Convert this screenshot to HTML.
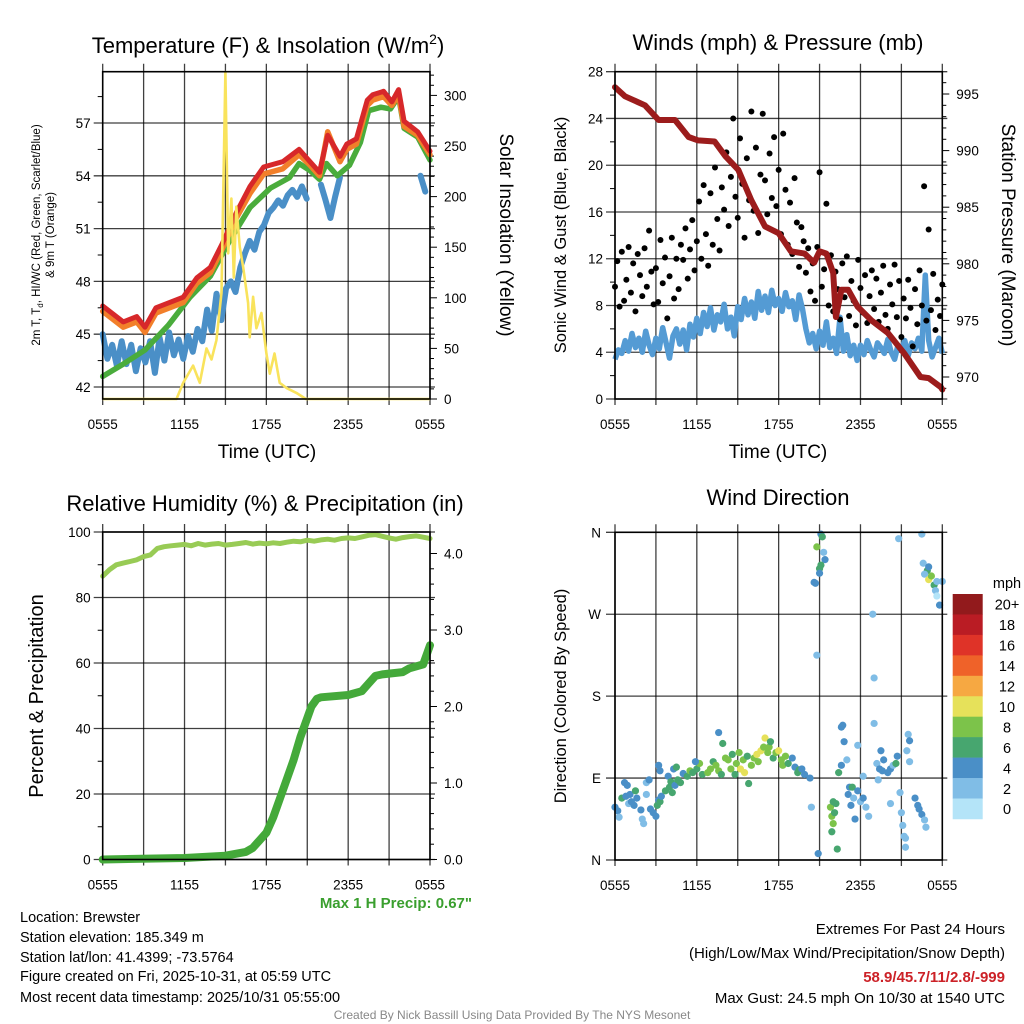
<!DOCTYPE html>
<html><head><meta charset="utf-8"><title>Mesonet Brewster</title>
<style>
html,body{margin:0;padding:0;background:#fff;}
svg{display:block;font-family:"Liberation Sans",sans-serif;}
</style></head>
<body>
<svg id="fig" width="1024" height="1024" viewBox="0 0 1024 1024" xmlns="http://www.w3.org/2000/svg">
<rect x="0" y="0" width="1024" height="1024" fill="#fff"/>
<text x="268" y="53" font-size="22" text-anchor="middle">Temperature (F) &amp; Insolation (W/m<tspan font-size="14" dy="-9">2</tspan><tspan dy="9">)</tspan></text>
<text x="778" y="50" font-size="22" text-anchor="middle">Winds (mph) &amp; Pressure (mb)</text>
<text x="265" y="511" font-size="22" text-anchor="middle">Relative Humidity (%) &amp; Precipitation (in)</text>
<text x="778" y="505" font-size="22" text-anchor="middle">Wind Direction</text>

<text transform="translate(40,235) rotate(-90)" font-size="11.5" text-anchor="middle">2m T, T<tspan font-size="8" dy="3">d</tspan><tspan dy="-3">, HI/WC (Red, Green, Scarlet/Blue)</tspan></text>
<text transform="translate(54,235) rotate(-90)" font-size="11.5" text-anchor="middle">&amp; 9m T (Orange)</text>
<text transform="translate(500,235) rotate(90)" font-size="19" text-anchor="middle">Solar Insolation (Yellow)</text>
<text transform="translate(566,235) rotate(-90)" font-size="16.5" text-anchor="middle">Sonic Wind &amp; Gust (Blue, Black)</text>
<text transform="translate(1002,235) rotate(90)" font-size="19" text-anchor="middle">Station Pressure (Maroon)</text>
<text transform="translate(43,696) rotate(-90)" font-size="20" text-anchor="middle">Percent &amp; Precipitation</text>
<text transform="translate(566,696) rotate(-90)" font-size="16.5" text-anchor="middle">Direction (Colored By Speed)</text>
<text x="267" y="458" font-size="19" text-anchor="middle">Time (UTC)</text>
<text x="778" y="458" font-size="19" text-anchor="middle">Time (UTC)</text>

<text x="472" y="908" font-size="15" font-weight="bold" fill="#3a9f2e" text-anchor="end">Max 1 H Precip: 0.67"</text>
<g font-size="14.5">
<text x="20" y="922">Location: Brewster</text>
<text x="20" y="942">Station elevation: 185.349 m</text>
<text x="20" y="962">Station lat/lon: 41.4399; -73.5764</text>
<text x="20" y="981">Figure created on Fri, 2025-10-31, at 05:59 UTC</text>
<text x="20" y="1002">Most recent data timestamp: 2025/10/31 05:55:00</text>
</g>
<g font-size="15" text-anchor="end">
<text x="1005" y="934">Extremes For Past 24 Hours</text>
<text x="1005" y="958">(High/Low/Max Wind/Precipitation/Snow Depth)</text>
<text x="1005" y="982" font-weight="bold" fill="#cc2127">58.9/45.7/11/2.8/-999</text>
<text x="1005" y="1003">Max Gust: 24.5 mph On 10/30 at 1540 UTC</text>
</g>
<text x="512" y="1019" font-size="12" fill="#888" text-anchor="middle">Created By Nick Bassill Using Data Provided By The NYS Mesonet</text>
</svg>
<script>
// ---------- DATA ----------
var timeTickLabels = ["0555","1155","1755","2355","0555"];
var timeTickHours = [0,6,12,18,24];
// Panel 1
var tempTicks = [42,45,48,51,54,57];
var solarTicks = [0,50,100,150,200,250,300];
var redHours = [0,1.5,2.5,3.1,3.9,5.9,6.9,7.9,8.8,9.8,10.8,11.8,13.2,14.4,15.2,15.9,16.5,17.4,17.9,18.6,19.4,19.8,20.6,21.2,21.7,22.1,23.1,24];
var redTemp = [46.6,45.7,46.0,45.4,46.5,47.1,48.2,48.8,50.2,51.9,53.4,54.5,54.8,55.5,54.8,54.2,56.3,55.1,55.8,56.1,58.3,58.6,58.8,58.2,58.9,57.1,56.5,55.4];
var orangeTemp = [46.3,45.4,45.7,45.1,46.2,46.8,47.9,48.5,49.9,51.6,53.0,54.1,54.4,55.2,54.6,54.0,56.5,54.8,55.5,55.8,58.0,58.3,58.5,58.0,58.6,56.8,56.3,55.2];
var greenHours = [0,1.5,3.1,4.8,6.4,7.9,9.3,10.8,12.3,13.7,14.4,15.2,15.9,16.4,17.2,18.1,18.9,19.5,20.4,21.1,21.7,22.1,23.1,24];
var greenTemp = [42.6,43.3,44.1,45.5,47.1,48.3,50.3,52.2,53.3,53.9,54.7,54.3,53.8,54.7,54.0,54.6,55.9,57.7,57.9,57.8,58.5,56.7,56.2,54.9];
var blueTemp = [45.0,43.6,44.4, 43.2,44.6,43.3, 44.4,42.9,44.2, 43.4,44.6,42.8, 44.8,43.5,45.1, 43.8,44.7,43.6, 44.9,44.0,45.3, 44.6,46.4,45.2, 47.3,45.8,47.6, 48.0,47.4,48.8, 49.6,50.3,49.8, 50.8,51.2,51.9, 52.2,52.6,52.3, 52.9,53.2,52.8, 53.4,52.7,null, null,53.5,52.6, 51.6,52.8,53.9, null,null,null, null,null,null, null,null,null, null,null,null, null,null,null, null,54.0,53.1, null];
var solarHours = [0,5.41,5.9,6.63,7.12,7.61,7.98,8.34,8.71,9.0,9.2,9.44,9.61,9.8,10.05,10.3,10.66,10.78,11.03,11.27,11.64,12.0,12.25,12.6,12.98,13.47,14.2,14.9,24];
var solarVals = [0,0,16,33,16,50,39,58,105,323,144,198,120,190,150,130,95,61,101,70,85,45,25,45,16,11,6,0,0];
// Panel 2
var windTicks = [0,4,8,12,16,20,24,28];
var pressTicks = [970,975,980,985,990,995];
var windSpeed = [3.4,4.2,3.9,5.0,4.1,5.6,4.4,5.2,4.0,5.8,4.6,3.8, 5.2,4.3,6.1,4.8,3.5,5.4,6.0,4.7,5.9,4.2,6.4,5.3, 6.9,5.6,7.4,6.2,7.8,5.9,7.2,6.6,8.1,6.0,7.0,5.4, 7.9,6.8,8.6,7.2,8.3,6.9,9.2,7.6,8.8,7.4,9.3,8.0, 8.6,7.5,9.1,7.9,8.4,6.8,8.9,7.7,6.0,4.8,5.6,4.3, 5.8,4.6,6.6,4.4,5.2,3.9,7.0,4.1,5.5,3.7,4.6,3.3, 4.6,3.8,5.0,4.2,3.6,4.8,4.4,3.9,5.1,4.0,3.4,4.6, 4.2,5.0,3.7,4.8,4.3,5.2,4.1,10.6,5.0,3.6,4.4,5.2, 3.9];
var gustSpeed = [9.6,11.8,7.9,12.6,8.4,10.2, 13.0,9.1,11.6,7.5,12.4,10.6, 8.8,12.9,9.6,14.4,10.9,8.1, 11.2,8.3,13.6,9.9,12.1,6.9, 10.5,13.8,8.6,12.0,9.4,13.2, 11.9,14.6,10.3,12.8,15.3,11.0, 13.5,16.9,12.0,18.3,14.1,11.4, 17.6,13.2,19.8,15.4,12.7,18.1, 16.2,21.1,14.8,19.0,24.0,17.3, 15.5,22.3,18.4,13.8,20.6,17.0, 24.6,16.1,21.5,14.2,19.2,24.4, 18.7,15.8,21.0,17.2,22.4,16.5, 19.6,14.1,22.7,17.9,13.2,16.8, 12.4,18.9,15.1,11.3,14.7,13.5, 10.8,12.9,9.2,11.6,8.4,13.0, 19.4,9.6,11.1,16.7,8.0,12.3, 7.5,10.9,9.4,6.8,11.6,8.7, 12.2,7.1,10.1,8.4,6.3,11.9, 9.5,7.4,10.6,6.5,8.8,11.0, 7.7,10.3,6.6,9.1,11.4,7.2, 6.0,9.8,8.1,11.5,7.0,10.1, 5.3,8.6,6.9,10.2,7.8,4.5, 9.4,6.4,11.0,8.0,18.2,6.7, 14.5,7.6,10.7,5.9,8.5,7.1, 9.8];
var pressHours = [0,0.73,2.2,3.2,4.4,5.4,6.1,7.3,8.1,9.04,10,11,12,12.9,13.9,14.6,15,15.5,16,16.2,16.6,17.1,17.8,18.8,20,21.2,22.4,23,23.9,24];
var pressVals = [995.6,994.8,994.0,992.7,992.7,991.2,990.9,990.8,989.5,988.3,985.6,983.3,982.7,981.1,980.9,980.1,981.1,980.9,979.2,975.3,977.7,977.7,976.2,975.0,973.9,972.1,970.0,969.9,969.1,968.9];
// Panel 3
var rhTicks = [0,20,40,60,80,100];
var precipTicks = [0,1,2,3,4];
var rhVals = [86.5,88.5,90,90.5,91,91.5,92.5,93,95,95.5, 95.8,96,96.2,95.8,96.5,96,96.3,96.5,96,96.2, 96.5,96.8,96.3,96.6,96.4,96.7,96.5,96.9,97.2,97, 97.5,97.2,97.6,97.8,97.5,98,98.2,98,98.5,99, 99.2,98.7,98.2,97.8,98.3,98.6,98.8,98.4,98];
var precipHours = [0,6,9,10.5,11,11.5,12,12.5,13,13.5,14,14.5,15,15.3,15.7,16,18,19,19.5,20,20.5,22,22.5,23.5,24];
var precipVals = [0,0.02,0.05,0.1,0.15,0.25,0.35,0.55,0.8,1.05,1.3,1.6,1.85,2.0,2.1,2.12,2.15,2.2,2.3,2.4,2.42,2.45,2.5,2.55,2.8];
// Panel 4
var dirTickLabels = ["N","E","S","W","N"];
var dirTickDeg = [0,90,180,270,360];
var speedBins = ["0","2","4","6","8","10","12","14","16","18","20+"];
var binColors = ["#b4e4f8","#80bde6","#4a8fc7","#47a66f","#7cc34a","#e6e15a","#f6a842","#ef6229","#df3328","#ba1c24","#921a1c"];
var dirHours = [0,0.2,0.3,0.5,0.7,0.9,0.8,1.0,1.2,1.1,1.4,1.5,1.6,1.9,2.0,2.1,2.3,2.3,2.5,2.6,2.8,3.0,3.1,3.2,3.3,3.4,3.2,3.3, 3.7,3.9,4.0,4.1,4.2,4.4,4.3,4.6,4.8,4.5,5.0,5.3,5.5,5.7,6.0,6.2,6.4,5.9, 6.8,7.0,7.2,7.4,7.6,7.8,7.6,7.9,8.1,8.3,8.5,8.6,8.8,8.9, 9.1,9.2,9.4,9.5,9.7,9.8,10.0,10.2,10.4,10.5,10.7,10.9,11.0,11.2,11.3,11.4,11.6,11.8,12.0,12.2,12.3,12.5,12.7, 13.0,13.2,13.4,13.5,13.7,13.9,14.3, 14.4,14.6,14.7,14.8,14.9,14.8,15.0,15.1,15.2,15.3,15.4,15.1,15.0, 15.8,15.9,16.0,16.0,16.1,16.2,15.9,16.3,16.4,16.6,16.6,16.7,16.8,17.0,17.1,17.2,17.4,17.3,17.5,17.6,17.8,18.0,17.8,18.2,18.4,18.2,18.6,18.9,19.0,19.0,19.2,19.3,19.4,19.6,19.5,19.7,20.0,20.2,20.4,20.6,20.7,20.2,20.9,21.0,21.1,21.2,21.3,21.3,21.5,21.6,21.4,21.6,22.0,22.2,22.3,22.5,22.7,22.8, 20.8,22.5,22.6,22.9,22.7,23.0,23.0,23.2,23.4,23.5,23.6,23.8,24.0,23.6];
var dirDeg = [58,54,47,68,85,82,70,62,64,72,60,76,68,55,45,40,85,72,88,56,52,48,60,66,64,70,104,98, 76,92,80,86,74,82,100,88,85,102,95,92,98,96,100,106,94,108, 96,100,108,104,98,94,140,128,112,110,100,116,94,106, 118,100,110,96,114,84,104,112,116,108,120,124,134,118,124,130,112,118,120,110,104,114,106, 112,102,96,99,100,94,90, 58,305,304,225,7,344,320,358,355,338,330,324,315, 58,48,64,40,52,62,31,12,96,104,146,148,130,110,72,80,80,60,68,45,76,64,126,68,58,92,48,270,200,150,106,88,100,98,120,110,96,100,104,106,114,62,74,52,38,26,14,24,138,131,120,108,68,60,56,50,44,36, 353,358,326,318,314,322,308,312,302,296,290,280,306,306];
var dirSpeed = [4,4,3,6,4,4,5,3,4,4,4,6,4,4,3,2,2,2,4,4,4,4,6,4,6,4,4,4, 6,4,6,6,6,4,4,6,6,6,4,6,8,6,6,8,6,4, 8,8,6,8,8,6,4,6,8,8,8,6,6,8, 8,10,8,10,6,6,8,8,10,8,10,8,10,8,8,6,6,8,10,8,8,8,6, 4,4,6,6,4,4,4, 2,4,4,2,4,8,6,4,6,2,4,6,4, 8,8,6,8,6,6,6,6,6,4,4,4,4,2,4,4,6,4,2,4,4,2,2,4,2,2,2,2,2,2,2,2,4,4,4,4,4,4,2,6,4,2,2,2,2,2,2,2,2,4,2,2,4,4,4,4,2,2, 2,2,2,6,2,4,10,8,6,2,0,4,2,2];

// ---------- HELPERS ----------
var NS = "http://www.w3.org/2000/svg";
var svg = document.getElementById("fig");
function mk(tag, attrs, name, parent) {
  var el = document.createElementNS(NS, tag);
  for (var k in attrs) el.setAttribute(k, attrs[k]);
  
  
  (parent || svg).appendChild(el);
  return el;
}
function txt(x, y, s, size, anchor, name, parent) {
  var t = mk("text", {x: x, y: y, "font-size": size, "text-anchor": anchor}, name, parent);
  t.textContent = s;
  return t;
}
function lin(x0, x1) { return function (h) { return x0 + h / 24 * (x1 - x0); }; }
function scale(v0, v1, p0, p1) { return function (v) { return p0 + (v - v0) / (v1 - v0) * (p1 - p0); }; }
function pathFrom(xs, ys) {
  var d = "", pen = false;
  for (var i = 0; i < xs.length; i++) {
    if (ys[i] === null) { pen = false; continue; }
    d += (pen ? "L" : "M") + xs[i].toFixed(1) + "," + ys[i].toFixed(1);
    pen = true;
  }
  return d;
}
function evenHours(n) { var a = []; for (var i = 0; i < n; i++) a.push(i * 24 / (n - 1)); return a; }

function panelFrame(L, R, T, B, name, labOff) {
  var g = mk("g", {}, name + "-grid");
  for (var h = 0; h <= 24; h += 3) {
    var x = L + h / 24 * (R - L);
    mk("line", {x1: x, x2: x, y1: T - 8, y2: B + 6, stroke: "#000", "stroke-width": 1.3, opacity: 0.75}, name + "-vgrid", g);
  }
  for (var i = 0; i < timeTickHours.length; i++) {
    var xx = L + timeTickHours[i] / 24 * (R - L);
    txt(xx, B + labOff, timeTickLabels[i], 13.5, "middle", name + "-x-tick-label", g);
  }
  return g;
}
function hgrid(L, R, y, name, g) {
  mk("line", {x1: L - 9, x2: R + 5, y1: y, y2: y, stroke: "#000", "stroke-width": 1.3, opacity: 0.75}, name, g);
}
function frame(L, R, T, B, name) {
  mk("rect", {x: L, y: T, width: R - L, height: B - T, fill: "none", stroke: "#000", "stroke-width": 1.6}, name, svg);
}
function rightTicks(R, ys, len, name, g) {
  for (var i = 0; i < ys.length; i++) mk("line", {x1: R, x2: R + len, y1: ys[i], y2: ys[i], stroke: "#000", "stroke-width": 1}, name, g);
}

// ================= PANEL 1 =================
(function () {
  var L = 102.7, R = 430, T = 71.7, B = 399;
  var x = lin(L, R), yT = scale(42, 57, 387, 123), yS = scale(0, 300, 399, 95.4);
  var g = panelFrame(L, R, T, B, "temp-panel", 30);
  tempTicks.forEach(function (v) { hgrid(L, R, yT(v), "temp-hgrid", g); txt(L - 12, yT(v) + 5, String(v), 13.5, "end", "temp-tick-label", g); });
  for (var v = 43.5; v <= 58.5; v += 3) mk("line", {x1: L - 5, x2: L, y1: yT(v), y2: yT(v), stroke: "#000"}, "temp-minor-tick", g);
  for (var s = 0; s <= 320; s += 10) { if (yS(s) < T) break; rightTicks(R, [yS(s)], s % 50 === 0 ? 7 : 4, "solar-tick", g); }
  solarTicks.forEach(function (v) { txt(R + 14, yS(v) + 5, String(v), 13.5, "start", "solar-tick-label", g); });
  var bh = evenHours(blueTemp.length);
  mk("path", {d: pathFrom(bh.map(x), blueTemp.map(function (v) { return v === null ? null : yT(v); })), fill: "none", stroke: "#4a8fc7", "stroke-width": 6, "stroke-linejoin": "round", "stroke-linecap": "round"}, "blue-series-line", svg);
  mk("path", {d: pathFrom(greenHours.map(x), greenTemp.map(yT)), fill: "none", stroke: "#4aac3c", "stroke-width": 5.5, "stroke-linejoin": "round", "stroke-linecap": "round"}, "green-series-line", svg);
  mk("path", {d: pathFrom(redHours.map(x), orangeTemp.map(yT)), fill: "none", stroke: "#f27f2a", "stroke-width": 5.5, "stroke-linejoin": "round", "stroke-linecap": "round"}, "orange-series-line", svg);
  mk("path", {d: pathFrom(redHours.map(x), redTemp.map(yT)), fill: "none", stroke: "#d7282a", "stroke-width": 5, "stroke-linejoin": "round", "stroke-linecap": "round"}, "red-series-line", svg);
  mk("path", {d: pathFrom(solarHours.map(x), solarVals.map(function (v) { return Math.max(T, yS(v)); })), fill: "none", stroke: "#f9e35c", "stroke-width": 2.6, "stroke-linejoin": "round"}, "solar-series-line", svg);
  frame(L, R, T, B, "temp-plot-frame");
})();

// ================= PANEL 2 =================
(function () {
  var L = 615, R = 942.3, T = 71.7, B = 399;
  var x = lin(L, R), yW = scale(0, 28, 399, 71.7), yP = scale(970, 995, 377, 94);
  var g = panelFrame(L, R, T, B, "wind-panel", 30);
  windTicks.forEach(function (v) { hgrid(L, R, yW(v), "wind-hgrid", g); txt(L - 12, yW(v) + 5, String(v), 13.5, "end", "wind-tick-label", g); });
  for (var v = 2; v < 28; v += 4) mk("line", {x1: L - 5, x2: L, y1: yW(v), y2: yW(v), stroke: "#000"}, "wind-minor-tick", g);
  for (var p = 969; p <= 997; p++) { var yy = yP(p); if (yy < T || yy > B) continue; rightTicks(R, [yy], p % 5 === 0 ? 7 : 4, "pressure-tick", g); }
  pressTicks.forEach(function (v) { txt(R + 14, yP(v) + 5, String(v), 13.5, "start", "pressure-tick-label", g); });
  var wh = evenHours(windSpeed.length);
  mk("path", {d: pathFrom(wh.map(x), windSpeed.map(yW)), fill: "none", stroke: "#549bd4", "stroke-width": 5.5, "stroke-linejoin": "round"}, "wind-speed-line", svg);
  var gh = evenHours(gustSpeed.length);
  for (var i = 0; i < gustSpeed.length; i++) {
    var c = mk("circle", {cx: x(gh[i]), cy: yW(gustSpeed[i]), r: 3, fill: "#000"}, "gust-point", svg);
  }
  mk("path", {d: pathFrom(pressHours.map(x), pressVals.map(yP)), fill: "none", stroke: "#9c1c1c", "stroke-width": 6, "stroke-linejoin": "round", "stroke-linecap": "round"}, "pressure-line", svg);
  frame(L, R, T, B, "wind-plot-frame");
})();

// ================= PANEL 3 =================
(function () {
  var L = 102.7, R = 430, T = 532, B = 859.5;
  var x = lin(L, R), yR = scale(0, 100, 859.5, 532), yI = scale(0, 4, 859.5, 553.5);
  var g = panelFrame(L, R, T, B, "rh-panel", 30);
  rhTicks.forEach(function (v) { hgrid(L, R, yR(v), "rh-hgrid", g); txt(L - 12, yR(v) + 5, String(v), 13.5, "end", "rh-tick-label", g); });
  for (var v = 10; v < 100; v += 20) mk("line", {x1: L - 5, x2: L, y1: yR(v), y2: yR(v), stroke: "#000"}, "rh-minor-tick", g);
  for (var k = 0; k <= 20; k++) { var pv = k * 0.2; rightTicks(R, [yI(pv)], k % 5 === 0 ? 7 : 4, "precip-tick", g); }
  precipTicks.forEach(function (v) { txt(R + 14, yI(v) + 5, v.toFixed(1), 13.5, "start", "precip-tick-label", g); });
  var rh = evenHours(rhVals.length);
  mk("path", {d: pathFrom(rh.map(x), rhVals.map(yR)), fill: "none", stroke: "#98cb55", "stroke-width": 5, "stroke-linejoin": "round", "stroke-linecap": "round"}, "rh-line", svg);
  mk("path", {d: pathFrom(precipHours.map(x), precipVals.map(yI)), fill: "none", stroke: "#44a93a", "stroke-width": 8, "stroke-linejoin": "round", "stroke-linecap": "round"}, "precip-line", svg);
  frame(L, R, T, B, "rh-plot-frame");
})();

// ================= PANEL 4 =================
(function () {
  var L = 615, R = 942.3, T = 532.3, B = 860;
  var x = lin(L, R), yD = scale(0, 360, 860, 532.3);
  var g = panelFrame(L, R, T, B, "direction-panel", 30);
  dirTickDeg.forEach(function (d, i) { hgrid(L, R, yD(d), "direction-hgrid", g); txt(L - 14, yD(d) + 5, dirTickLabels[i], 13.5, "end", "direction-tick-label", g); });
  for (var i = 0; i < dirDeg.length; i++) {
    var bin = Math.min(10, Math.floor(dirSpeed[i] / 2));
    var c = mk("circle", {cx: x(dirHours[i]), cy: yD(dirDeg[i]), r: 3.6, fill: binColors[bin]}, "direction-point", svg);
  }
  frame(L, R, T, B, "direction-plot-frame");
  var cb = mk("g", {}, "speed-colorbar");
  txt(1007, 588, "mph", 14.5, "middle", "colorbar-unit-label", cb);
  var top = 594, h = 20.45;
  for (var j = 0; j < speedBins.length; j++) {
    var idx = speedBins.length - 1 - j;
    mk("rect", {x: 952.7, y: top + j * h, width: 30, height: h + 0.3, fill: binColors[idx]}, "colorbar-box", cb);
    txt(1007, top + j * h + h / 2 + 5.5, speedBins[idx], 14.5, "middle", "colorbar-label", cb);
  }
})();
</script>
</body></html>
